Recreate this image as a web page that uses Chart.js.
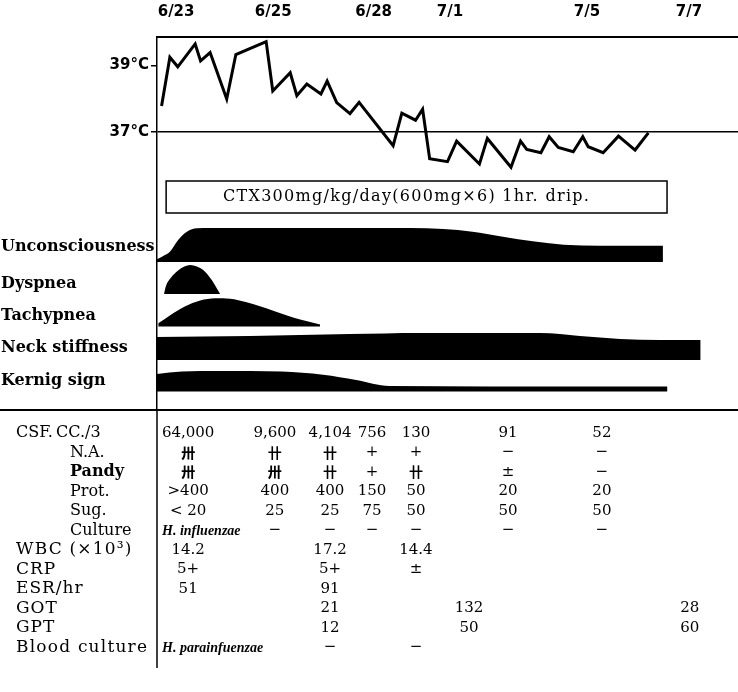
<!DOCTYPE html>
<html><head><meta charset="utf-8">
<script src="https://cdn.jsdelivr.net/npm/chart.js@4.4.1/dist/chart.umd.min.js"></script>
<style>html,body{margin:0;padding:0;background:#fff;}canvas{display:block;}</style>
</head><body>
<canvas id="c" width="738" height="692"></canvas>
<script>
// ---- data (x unit: days along the chart's time line) ----
const dateLabels = ['6/23', '6/25', '6/28', '7/1', '7/5', '7/7'];
const dateDays = [0.46, 2.80, 5.22, 7.06, 10.36, 12.82];

const tempDays = [0.11,0.31,0.50,0.92,1.05,1.28,1.68,1.90,2.63,2.79,3.21,3.37,3.61,3.95,4.10,4.33,4.65,4.87,5.69,5.90,6.23,6.40,6.57,7.00,7.22,7.77,7.96,8.53,8.76,8.91,9.25,9.45,9.67,10.03,10.26,10.39,10.75,11.12,11.52,11.84];
const tempValues = [37.78,39.25,38.96,39.65,39.14,39.39,37.99,39.33,39.72,38.23,38.78,38.09,38.44,38.14,38.53,37.88,37.55,37.89,36.58,37.56,37.35,37.68,36.19,36.10,36.72,36.03,36.80,35.93,36.72,36.47,36.37,36.85,36.53,36.40,36.85,36.55,36.37,36.87,36.45,36.97];
const tempTickValues = [37, 39];

const dripLabel = 'CTX300mg/kg/day(600mg×6) 1hr. drip.';
const dripStart = 0.22;
const dripEnd = 12.29;

const symptomNames = ['Unconsciousness', 'Dyspnea', 'Tachypnea', 'Neck stiffness', 'Kernig sign'];
const unconsciousnessDays = [0.0, 0.15, 0.31, 0.51, 0.72, 0.96, 1.28, 6.1, 6.9, 7.6, 8.3, 9.1, 9.8, 10.67, 12.19];
const unconsciousnessLevel = [0.08, 0.18, 0.30, 0.65, 0.89, 0.99, 1.0, 1.0, 0.97, 0.89, 0.75, 0.6, 0.51, 0.48, 0.48];
const dyspneaDays = [0.17, 0.21, 0.33, 0.50, 0.66, 0.80, 0.96, 1.12, 1.32, 1.52];
const dyspneaLevel = [0, 0.25, 0.55, 0.8, 0.95, 1.0, 0.95, 0.82, 0.48, 0];
const tachypneaDays = [0.03, 0.31, 0.67, 1.04, 1.40, 1.76, 2.16, 2.5, 2.80, 3.15, 3.45, 3.93];
const tachypneaLevel = [0.11, 0.39, 0.70, 0.91, 0.99, 0.97, 0.85, 0.7, 0.55, 0.38, 0.25, 0.07];
const neckDays = [0, 2.24, 4.65, 6.34, 9.23, 10.19, 11.16, 12.12, 13.1];
const neckLevel = [0.85, 0.89, 0.96, 1.0, 1.0, 0.89, 0.78, 0.74, 0.74];
const kernigDays = [0, 0.6, 1.5, 3.0, 4.0, 4.8, 5.6, 8.0, 12.3];
const kernigLevel = [0.83, 0.95, 0.98, 0.95, 0.8, 0.55, 0.26, 0.24, 0.24];

// laboratory table
const labDays = [0.75, 2.84, 4.17, 5.18, 6.24, 7.52, 8.46, 10.72, 12.84];
const csfCount   = ['64,000', '9,600', '4,104', '756', '130', null, '91', '52', null];
const csfNA      = ['卅', '卄', '卄', '+', '+', null, '−', '−', null];
const csfPandy   = ['卅', '卅', '卄', '+', '卄', null, '±', '−', null];
const csfProt    = ['>400', '400', '400', '150', '50', null, '20', '20', null];
const csfSug     = ['< 20', '25', '25', '75', '50', null, '50', '50', null];
const csfCulture = ['H. influenzae', '−', '−', '−', '−', null, '−', '−', null];
const wbc        = ['14.2', null, '17.2', null, '14.4', null, null, null, null];
const crp        = ['5+', null, '5+', null, '±', null, null, null, null];
const esr        = ['51', null, '91', null, null, null, null, null, null];
const got        = [null, null, '21', null, null, '132', null, null, '28'];
const gpt        = [null, null, '12', null, null, '50', null, null, '60'];
const bloodCulture = ['H. parainfuenzae', null, '−', null, '−', null, null, null, null];

// ---- layout / style ----
const L = { top: 37, bottom: 410, left: 157, axisEnd: 668 };
const px37 = 131.8, px39 = 65.5;
const pxPerDeg = (px37 - px39) / 2;
const tMax = 39 + (px39 - L.top) / pxPerDeg;
const tMin = 37 - (L.bottom - px37) / pxPerDeg;
const bandLayout = [
  { base: 262, full: 34, labelY: 247 },
  { base: 294, full: 29, labelY: 284 },
  { base: 326.5, full: 28.5, labelY: 316 },
  { base: 360, full: 27, labelY: 348 },
  { base: 391.5, full: 21, labelY: 381 }
];
function bandAxis(b) {
  return { type: 'linear', display: false, min: -(L.bottom - b.base) / b.full, max: (b.base - L.top) / b.full };
}
const tableRows = [
  { label: 'CSF.', sub: 'CC./3', cells: csfCount },
  { sub: 'N.A.', cells: csfNA },
  { sub: 'Pandy', subBold: true, cells: csfPandy },
  { sub: 'Prot.', cells: csfProt },
  { sub: 'Sug.', cells: csfSug },
  { sub: 'Culture', cells: csfCulture, italic0: true },
  { label: 'WBC (×10³)', cells: wbc, spacing: 1.2 },
  { label: 'CRP', cells: crp, spacing: 1 },
  { label: 'ESR/hr', cells: esr, spacing: 1 },
  { label: 'GOT', cells: got, spacing: 1 },
  { label: 'GPT', cells: gpt, spacing: 1 },
  { label: 'Blood culture', cells: bloodCulture, italic0: true, spacing: 1.2 }
];
const rowY0 = 433, rowStep = 19.5;

const zip = (xs, ys) => xs.map((x, i) => ({ x, y: ys[i] }));
const bandSeries = [
  [unconsciousnessDays, unconsciousnessLevel],
  [dyspneaDays, dyspneaLevel],
  [tachypneaDays, tachypneaLevel],
  [neckDays, neckLevel],
  [kernigDays, kernigLevel]
];

const datasets = [{
  label: 'Temperature',
  data: zip(tempDays, tempValues),
  yAxisID: 'yT',
  borderColor: '#000',
  borderWidth: 3,
  pointRadius: 0,
  tension: 0,
  fill: false
}];
bandSeries.forEach((s, i) => {
  datasets.push({
    label: symptomNames[i],
    data: zip(s[0], s[1]),
    yAxisID: 'b' + i,
    borderWidth: 0,
    borderColor: '#000',
    backgroundColor: '#000',
    pointRadius: 0,
    cubicInterpolationMode: 'monotone',
    fill: 'origin'
  });
});

const scales = {
  x: {
    type: 'linear', position: 'top', min: 0, max: 14,
    afterFit: s => { s.height = L.top; },
    afterBuildTicks: s => { s.ticks = dateDays.map(v => ({ value: v })); },
    ticks: {
      autoSkip: false, maxRotation: 0, padding: 16, color: '#000',
      font: { family: 'DejaVu Sans', weight: 'bold', size: 15 },
      callback: (v, i) => dateLabels[i]
    },
    grid: { display: false, drawTicks: false },
    border: { display: true, color: '#000', width: 2 }
  },
  yT: {
    type: 'linear', position: 'left', min: tMin, max: tMax,
    afterFit: s => { s.width = L.left; },
    afterBuildTicks: s => { s.ticks = tempTickValues.map(v => ({ value: v })); },
    ticks: {
      color: '#000', padding: 2,
      font: { family: 'DejaVu Sans', weight: 'bold', size: 15 },
      callback: v => v + '°C'
    },
    grid: {
      drawOnChartArea: true, tickLength: 6, lineWidth: 1.5,
      color: c => (c.tick && c.tick.value === 37) ? '#000' : 'rgba(0,0,0,0)',
      tickColor: '#000'
    },
    border: { display: true, color: '#000', width: 1.5 }
  }
};
bandLayout.forEach((b, i) => { scales['b' + i] = bandAxis(b); });

const annot = {
  id: 'annot',
  afterDraw(chart) {
    const { ctx, chartArea: a, scales: { x } } = chart;
    ctx.save();
    ctx.strokeStyle = '#000';
    ctx.fillStyle = '#000';
    // separator & axis continuation
    ctx.lineWidth = 2;
    ctx.beginPath(); ctx.moveTo(0, a.bottom); ctx.lineTo(chart.width, a.bottom); ctx.stroke();
    ctx.lineWidth = 1.5;
    ctx.beginPath(); ctx.moveTo(a.left, a.bottom); ctx.lineTo(a.left, L.axisEnd); ctx.stroke();
    // drip box
    const bx0 = x.getPixelForValue(dripStart), bx1 = x.getPixelForValue(dripEnd);
    ctx.lineWidth = 1.5;
    ctx.strokeRect(bx0, 181, bx1 - bx0, 32);
    ctx.font = '16px "DejaVu Serif"';
    ctx.letterSpacing = '1.3px';
    ctx.textAlign = 'center';
    ctx.textBaseline = 'middle';
    ctx.fillText(dripLabel, (bx0 + bx1) / 2 - 10, 197);
    ctx.letterSpacing = '0px';
    // symptom labels
    ctx.textAlign = 'left';
    ctx.font = 'bold 16px "DejaVu Serif"';
    symptomNames.forEach((n, i) => ctx.fillText(n, 1, bandLayout[i].labelY));
    // table
    tableRows.forEach((r, ri) => {
      const y = rowY0 + ri * rowStep;
      ctx.textAlign = 'left';
      if (r.label) {
        ctx.font = (r.spacing ? '17px' : '16px') + ' "DejaVu Serif"';
        ctx.letterSpacing = (r.spacing || 0) + 'px';
        ctx.fillText(r.label, 16, y);
        ctx.letterSpacing = '0px';
      }
      if (r.sub) {
        ctx.font = (r.subBold ? 'bold ' : '') + '16px "DejaVu Serif"';
        ctx.fillText(r.sub, r.label ? 56 : 70, y);
      }
      r.cells.forEach((c, ci) => {
        if (c == null) return;
        if (ci === 0 && r.italic0) {
          ctx.textAlign = 'left';
          ctx.font = 'italic bold 14px "Liberation Serif"';
          ctx.fillText(c, a.left + 5, y + 1);
          return;
        }
        ctx.textAlign = 'center';
        if (/[卄卅]/.test(c)) ctx.font = 'bold 14px "Noto Sans CJK JP"';
        else ctx.font = '15px "DejaVu Serif"';
        ctx.fillText(c, x.getPixelForValue(labDays[ci]), y);
      });
    });
    ctx.restore();
  }
};

const bg = {
  id: 'bg',
  beforeDraw(chart) {
    const c = chart.ctx; c.save(); c.fillStyle = '#fff'; c.fillRect(0, 0, chart.width, chart.height); c.restore();
  }
};

new Chart(document.getElementById('c'), {
  type: 'line',
  data: { datasets },
  options: {
    responsive: false,
    animation: false,
    layout: { padding: { top: 0, left: 0, right: 0, bottom: 692 - L.bottom } },
    plugins: { legend: { display: false }, tooltip: { enabled: false } },
    scales
  },
  plugins: [bg, annot]
});
</script>
</body></html>
